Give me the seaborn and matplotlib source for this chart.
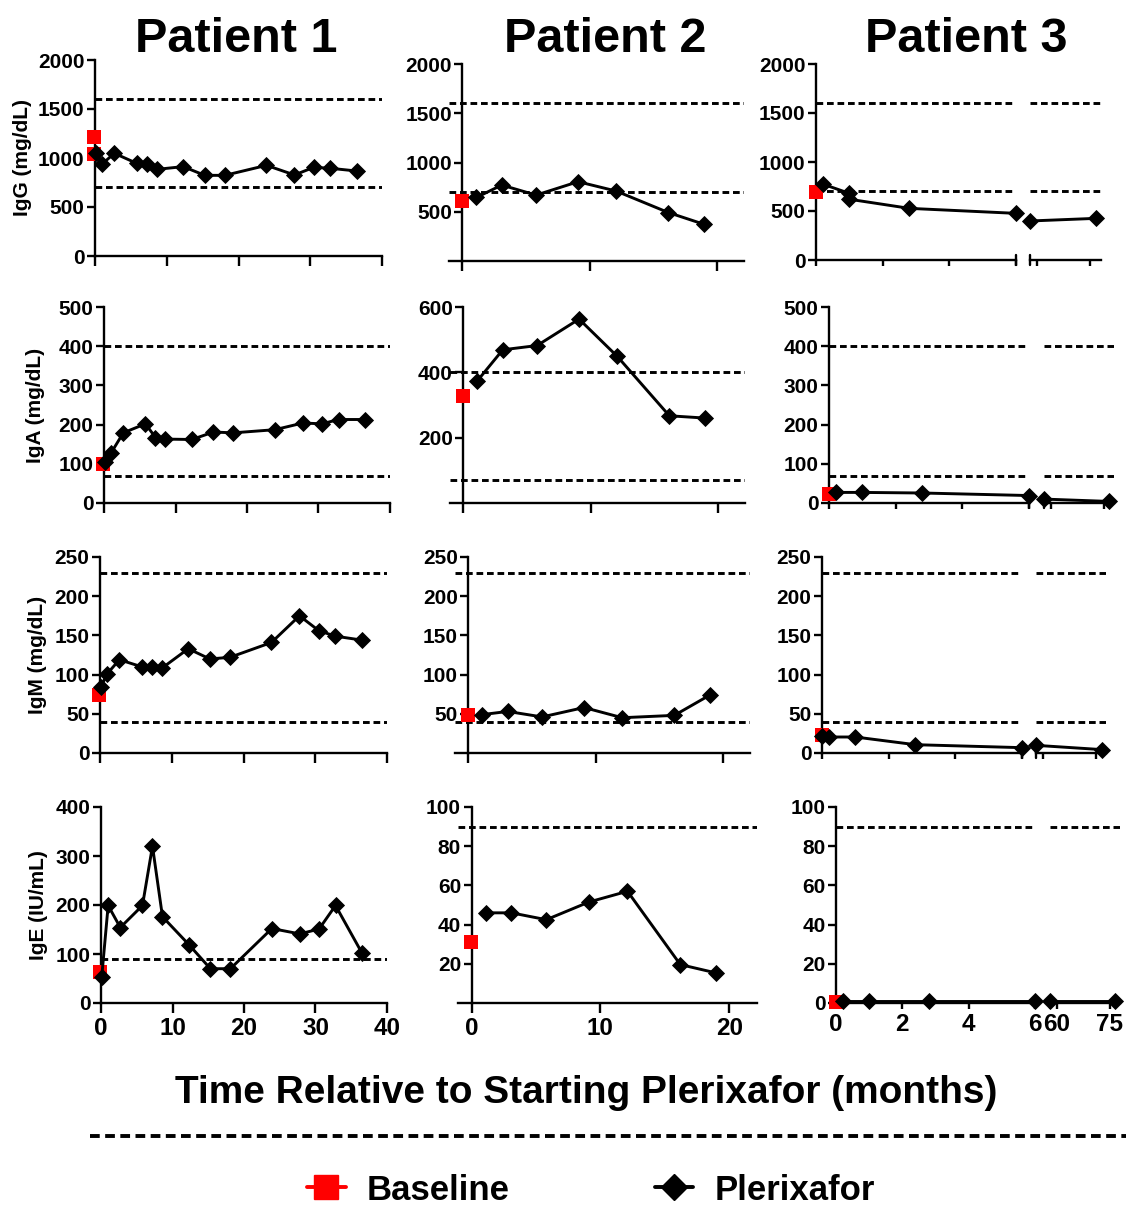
import matplotlib
matplotlib.use("Agg")
import matplotlib.pyplot as plt
import seaborn as sns
from matplotlib.lines import Line2D

# ---------------- data ----------------
patients = ["Patient 1", "Patient 2", "Patient 3"]
ylabels = ["IgG (mg/dL)", "IgA (mg/dL)", "IgM (mg/dL)", "IgE (IU/mL)"]
normal_low = [700, 70, 40, 0]
normal_high = [1600, 400, 230, 90]

# Patient 1
p1_time = [0.1, 1.0, 2.7, 5.8, 7.2, 8.6, 12.3, 15.3, 18.1, 23.9, 27.8, 30.5, 32.8, 36.5]
p1_igg = [1054, 939, 1048, 946, 939, 884, 912, 823, 823, 925, 827, 905, 895, 867]
p1_iga = [104, 128, 179, 202, 167, 163, 162, 181, 179, 187, 204, 202, 213, 213]
p1_igm = [84, 101, 119, 110, 110, 108, 133, 120, 122, 141, 175, 156, 149, 144]
p1_ige = [53, 199, 154, 199, 320, 176, 119, 70, 70, 152, 141, 151, 199, 102]
p1_base_time = -0.15
p1_base_igg = [1210, 1040]
p1_base_iga = [100]
p1_base_igm = [74]
p1_base_ige = [63]

# Patient 2
p2_time = [1.1, 3.1, 5.8, 9.1, 12.1, 16.2, 19.0]
p2_igg = [645, 771, 669, 805, 710, 492, 373]
p2_iga = [374, 469, 482, 563, 449, 267, 260]
p2_igm = [49, 53, 46, 58, 45, 48, 74]
p2_ige = [46, 46, 42.5, 51.5, 57, 19.6, 15.3]
p2_base_time = -0.05
p2_base_igg = [611]
p2_base_iga = [329]
p2_base_igm = [49]
p2_base_ige = [31]

# Patient 3 (broken time axis: 0-6 and 58-78 months)
p3_time_igg = [0.2, 1.0, 1.0, 2.8, 6.0, 57.9, 76.6]
p3_time = [0.2, 1.0, 2.8, 6.0, 57.9, 76.6]
p3_time_igm = [0.0, 0.2, 1.0, 2.8, 6.0, 57.9, 76.9]
p3_igg = [775, 680, 620, 527, 476, 398, 425]
p3_iga = [27, 27, 25.5, 19, 10, 4]
p3_igm = [21.7, 20.4, 20.4, 10.6, 6.8, 9.8, 4.3]
p3_ige = [0.8, 0.8, 0.8, 0.8, 0.8, 0.8]
p3_base_time = 0.0
p3_base_igg = [690]
p3_base_iga = [24]
p3_base_igm = [22.5]
p3_base_ige = [0.5]

# axis settings
p1_ylims = [(0, 2000), (0, 500), (0, 250), (0, 400)]
p1_yticks = [[0, 500, 1000, 1500, 2000], [0, 100, 200, 300, 400, 500],
             [0, 50, 100, 150, 200, 250], [0, 100, 200, 300, 400]]
p2_ylims = [(0, 2000), (0, 600), (0, 250), (0, 100)]
p2_yticks = [[500, 1000, 1500, 2000], [200, 400, 600],
             [50, 100, 150, 200, 250], [20, 40, 60, 80, 100]]
p3_ylims = [(0, 2000), (0, 500), (0, 250), (0, 100)]
p3_yticks = [[0, 500, 1000, 1500, 2000], [0, 100, 200, 300, 400, 500],
             [0, 50, 100, 150, 200, 250], [0, 20, 40, 60, 80, 100]]
p1_xticks = [0, 10, 20, 30, 40]
p2_xticks = [0, 10, 20]
p3_xticks_a = [0, 2, 4, 6]
p3_xticks_b = [60, 75]

# ---------------- layout (pixels) ----------------
W, H = 1126, 1209
p1_rects = [(95, 382, 60, 256), (104, 390, 307, 503), (100, 387, 557, 753), (101, 387, 807, 1003)]
p2_rects = [(449, 744, 64, 261), (450, 745, 307, 503), (455, 750, 557, 753), (458, 757, 807, 1003)]
p3_rects_a = [(816, 1016, 64, 260), (829, 1029, 307, 503), (822, 1022, 557, 753), (836, 1035, 807, 1003)]
p3_rects_b = [(1030, 1101, 64, 260), (1044, 1114, 307, 503), (1036, 1106, 557, 753), (1050, 1120, 807, 1003)]
ylabel_right = [32, 45, 47, 48]

sns.set_theme(style="ticks", rc={"axes.edgecolor": "black", "xtick.color": "black",
                                 "ytick.color": "black", "text.color": "black",
                                 "axes.labelcolor": "black"})
plt.rcParams["font.family"] = ["Liberation Sans", "DejaVu Sans"]
plt.rcParams["font.weight"] = "bold"
plt.rcParams["axes.labelweight"] = "bold"

SPINE_LW = 1.7
DATA_LW = 2.1
REF_LW = 2.1
DASH = (0, (2.3, 1.3))

fig = plt.figure(figsize=(W / 100, H / 100), dpi=100)


def px_rect(r):
    x0, x1, yt, yb = r
    return [x0 / W, 1 - yb / H, (x1 - x0) / W, (yb - yt) / H]


def base_axes(r):
    ax = fig.add_axes(px_rect(r))
    ax.patch.set_alpha(0)
    for s in ["top", "right"]:
        ax.spines[s].set_visible(False)
    for s in ["left", "bottom"]:
        ax.spines[s].set_linewidth(SPINE_LW)
    return ax


def draw_data(ax, t, y, bt, by, row):
    ax.axhline(normal_low[row], color="black", lw=REF_LW, ls=DASH, zorder=3)
    ax.axhline(normal_high[row], color="black", lw=REF_LW, ls=DASH, zorder=3)
    if len(by):
        sns.scatterplot(x=[bt] * len(by), y=by, ax=ax, color="#ff0000", marker="s",
                        s=110, linewidth=0, clip_on=False, zorder=4)
    if len(y):
        sns.lineplot(x=t, y=y, ax=ax, color="black", lw=DATA_LW, marker="D", markersize=7.8,
                     markeredgecolor="black", markeredgewidth=0.6, estimator=None,
                     sort=False, clip_on=False, zorder=5)
    ax.set_xlabel("")
    ax.set_ylabel("")


def style_y(ax, ylim, yticks):
    ax.set_ylim(*ylim)
    ax.set_yticks(yticks)
    ax.tick_params(axis="y", length=5.5, width=SPINE_LW, labelsize=15, pad=2)


def style_x(ax, xlim, xticks, bottom_row, ticklen):
    ax.set_xlim(*xlim)
    ax.set_xticks(xticks)
    ax.tick_params(axis="x", length=ticklen, width=SPINE_LW, labelsize=17.5, pad=3,
                   labelbottom=bottom_row)


p1_vals = [p1_igg, p1_iga, p1_igm, p1_ige]
p1_base = [p1_base_igg, p1_base_iga, p1_base_igm, p1_base_ige]
p2_vals = [p2_igg, p2_iga, p2_igm, p2_ige]
p2_base = [p2_base_igg, p2_base_iga, p2_base_igm, p2_base_ige]
p3_vals = [p3_igg, p3_iga, p3_igm, p3_ige]
p3_times = [p3_time_igg, p3_time, p3_time_igm, p3_time]
p3_base = [p3_base_igg, p3_base_iga, p3_base_igm, p3_base_ige]

for row in range(4):
    bottom = row == 3
    # Patient 1
    ax = base_axes(p1_rects[row])
    draw_data(ax, p1_time, p1_vals[row], p1_base_time, p1_base[row], row)
    style_y(ax, p1_ylims[row], p1_yticks[row])
    style_x(ax, (0, 40), p1_xticks, bottom, 7)
    ax.set_ylabel(ylabels[row], fontsize=15, fontweight="bold")
    x0, x1 = p1_rects[row][0], p1_rects[row][1]
    ax.yaxis.set_label_coords((ylabel_right[row] - x0) / (x1 - x0), 0.5)

    # Patient 2
    ax = base_axes(p2_rects[row])
    draw_data(ax, p2_time, p2_vals[row], p2_base_time, p2_base[row], row)
    style_y(ax, p2_ylims[row], p2_yticks[row])
    style_x(ax, (-1.05, 22.15), p2_xticks, bottom, 7)
    ax.spines["left"].set_position(("data", 0))

    # Patient 3, first segment (0-6 months)
    t = p3_times[row]
    v = p3_vals[row]
    ta = [a for a in t if a <= 6]
    va = [b for a, b in zip(t, v) if a <= 6]
    tb = [a for a in t if a > 6]
    vb = [b for a, b in zip(t, v) if a > 6]
    ax = base_axes(p3_rects_a[row])
    draw_data(ax, ta, va, p3_base_time, p3_base[row], row)
    style_y(ax, p3_ylims[row], p3_yticks[row])
    style_x(ax, (0, 6), p3_xticks_a, bottom, 4.5)
    ax.plot([1, 1], [-0.028, 0.028], transform=ax.transAxes, color="black",
            lw=SPINE_LW, clip_on=False, zorder=6)

    # Patient 3, second segment (58-78 months)
    ax = base_axes(p3_rects_b[row])
    draw_data(ax, tb, vb, p3_base_time, [], row)
    ax.set_ylim(*p3_ylims[row])
    ax.spines["left"].set_visible(False)
    ax.set_yticks([])
    style_x(ax, (58, 78), p3_xticks_b, bottom, 4.5)
    ax.plot([0, 0], [-0.028, 0.028], transform=ax.transAxes, color="black",
            lw=SPINE_LW, clip_on=False, zorder=6)

# titles
for name, xc in zip(patients, [236, 605, 966]):
    fig.text(xc / W, 1 - 52 / H, name, ha="center", va="baseline",
             fontsize=35, fontweight="bold")

# common x label
fig.text(586 / W, 1 - 1103 / H, "Time Relative to Starting Plerixafor (months)",
         ha="center", va="baseline", fontsize=28, fontweight="bold")

# separator dashed line
fig.add_artist(Line2D([90 / W, 1.0], [1 - 1136 / H, 1 - 1136 / H],
                      transform=fig.transFigure, color="black", lw=2.8,
                      ls=(0, (2.5, 1.4))))

# legend
handles = [
    Line2D([0], [0], color="#ff0000", lw=2.8, marker="s", markersize=17,
           markeredgecolor="#ff0000"),
    Line2D([0], [0], color="black", lw=2.8, marker="D", markersize=13,
           markeredgecolor="black"),
]
fig.legend(handles, ["Baseline", "Plerixafor"], loc="center",
           bbox_to_anchor=(591 / W, 1 - 1190 / H), ncol=2, frameon=False,
           prop={"size": 25, "weight": "bold"}, handlelength=1.1,
           handletextpad=0.6, columnspacing=4.2)

fig.savefig("out.png", dpi=100)
